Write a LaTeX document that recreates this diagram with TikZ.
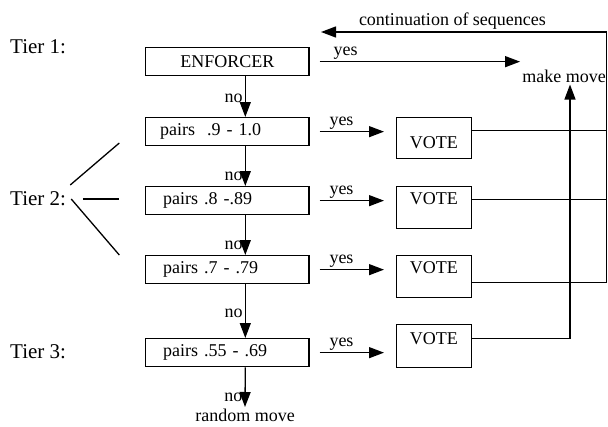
\documentclass[tikz,border=0pt]{standalone}
\usepackage{fontspec}
\setmainfont{Liberation Serif}
\usetikzlibrary{arrows.meta}

\begin{document}
\begin{tikzpicture}[x = 1pt, y = -1pt]
  \tikzstyle{every node}=[font=\fontsize{18}{21}\selectfont]
  \tikzstyle{tier}=[anchor=west, inner sep=2pt, font=\fontsize{21}{25}\selectfont]
  \tikzstyle{box}=[draw, line width=1.3pt, anchor=north west, minimum height=28pt,
    inner xsep=14.4pt, inner ysep=0pt, text width=134.5pt, align=left]
  \tikzstyle{vote}=[draw, line width=1.3pt, anchor=north west, minimum width=75.6pt, inner ysep=4pt]
  \tikzstyle{arr}=[line width=1.3pt, -{Triangle[length=15pt, width=11pt]}]
  \tikzstyle{wire}=[line width=1.3pt]
  \tikzstyle{lbl}=[inner sep=2pt]

  \useasboundingbox (0,0) rectangle (608,426);

  \node[tier] (t1) at (8,47) {Tier 1:};
  \node[tier] (t2) at (8,199) {Tier 2:};
  \node[tier] (t3) at (8,352) {Tier 3:};

  \node[box, align=center] (enf) at (145,47) {ENFORCER};
  \node[box] (p1) at (145,117) {pairs~ .9 - 1.0};
  \node[box] (p2) at (145,186) {\hspace{3pt}pairs .8 -.89};
  \node[box] (p3) at (145,255) {\hspace{3pt}pairs .7 - .79};
  \node[box] (p4) at (145,338) {\hspace{3pt}pairs .55 - .69};

  \node[vote, text height=27pt, text depth=6pt] (v1) at (395.5,117) {VOTE};
  \node[vote, text height=14pt, text depth=20pt] (v2) at (395.5,186) {VOTE};
  \node[vote, text height=14pt, text depth=20pt] (v3) at (395.5,255) {VOTE};
  \node[vote, text height=16pt, text depth=19pt] (v4) at (395.5,324) {VOTE};

  \node[lbl] (mm) at (564,76) {make move};
  \node[lbl, anchor=north] (rm) at (245,407) {random move};

  \coordinate (rt) at (606.8,32);
  \coordinate (lt) at (321,32);
  \coordinate (b1) at (119.3,143);
  \coordinate (b2) at (119.3,199);
  \coordinate (b3) at (119.3,255);

  \draw[wire] ([xshift=2pt, yshift=14pt]t2.east) -- (b1);
  \draw[wire] ([xshift=14.7pt]t2.east) -- (b2);
  \draw[wire] ([xshift=3pt]t2.east) -- (b3);

  \draw[arr] ([xshift=18pt]enf.south) -- ([xshift=18pt]p1.north) node[lbl, left, pos=0.55] {no};
  \draw[arr] ([xshift=18pt]p1.south) -- ([xshift=18pt]p2.north) node[lbl, left, pos=0.76] {no};
  \draw[arr] ([xshift=18pt]p2.south) -- ([xshift=18pt]p3.north) node[lbl, left, pos=0.76] {no};
  \draw[arr] ([xshift=18pt]p3.south) -- ([xshift=18pt]p4.north) node[lbl, left, pos=0.55] {no};
  \draw[arr] ([xshift=18pt]p4.south) -- (rm.north) node[lbl, left, pos=0.75] {no};

  \draw[arr] ([xshift=10pt]enf.east) -- (enf.east -| mm.west) node[lbl, above, pos=0.13] {yes};
  \draw[arr] ([xshift=10pt]p1.east) -- ([xshift=-11.5pt]p1.east -| v1.west) node[lbl, above, pos=0.34] {yes};
  \draw[arr] ([xshift=10pt]p2.east) -- ([xshift=-11.5pt]p2.east -| v2.west) node[lbl, above, pos=0.34] {yes};
  \draw[arr] ([xshift=10pt]p3.east) -- ([xshift=-11.5pt]p3.east -| v3.west) node[lbl, above, pos=0.34] {yes};
  \draw[arr] ([xshift=10pt]p4.east) -- ([xshift=-11.5pt]p4.east -| v4.west) node[lbl, above, pos=0.34] {yes};

  \draw[wire] ([yshift=7.5pt]v1.east) -| (rt);
  \draw[wire] ([yshift=8pt]v2.east) -| (rt);
  \draw[arr] ([yshift=-6pt]v3.east) -| (rt) -- (lt) node[lbl, above, pos=0.54] {continuation of sequences};
  \draw[arr] ([yshift=7.5pt]v4.east) -| ([xshift=6pt]mm.south);

\end{tikzpicture}
\end{document}
